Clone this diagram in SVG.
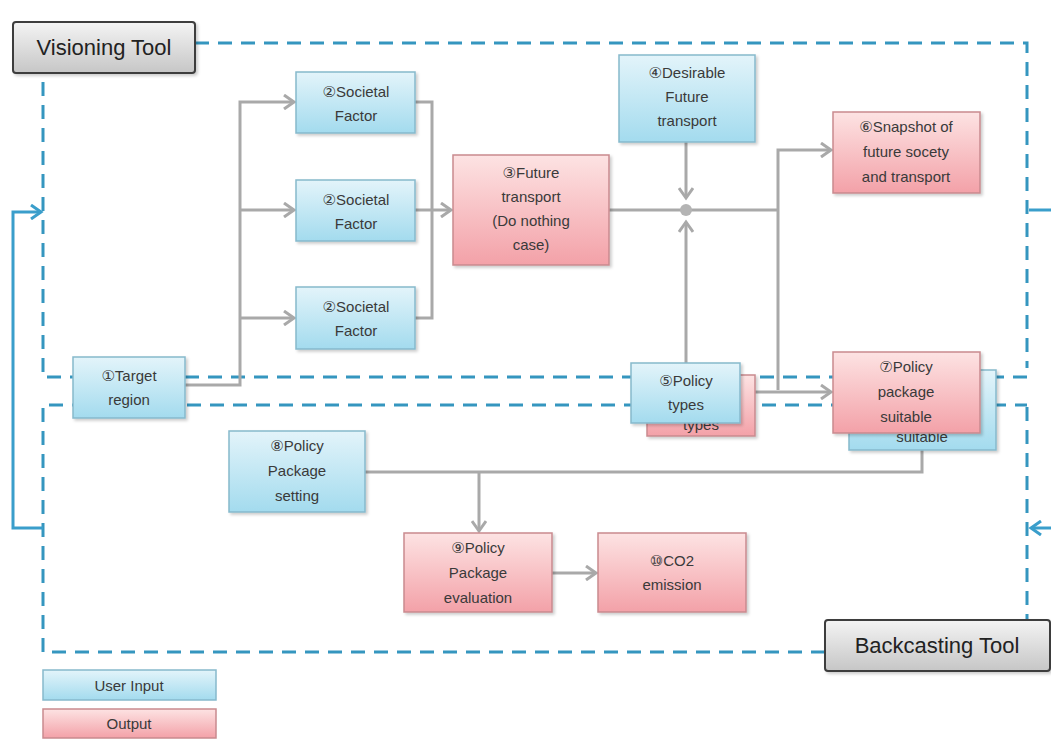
<svg xmlns="http://www.w3.org/2000/svg" width="1051" height="740" viewBox="0 0 1051 740">
  <style>
    .txt { font-family: "Liberation Sans", "DejaVu Sans", sans-serif; font-size: 15px; fill: #3a3a3a; text-anchor: middle; }
    .tool { font-family: "Liberation Sans", "DejaVu Sans", sans-serif; font-size: 22px; fill: #222; text-anchor: middle; }
    .blue { fill: url(#gBlue); stroke: #86b9cc; stroke-width: 1.5; }
    .red { fill: url(#gRed); stroke: #c98a8f; stroke-width: 1.5; }
    .toolbox { fill: url(#gGray); stroke: #3c3c3c; stroke-width: 2; }
    .conn { fill: none; stroke: #a9a9a9; stroke-width: 3; }
    .frame { fill: none; stroke: #3596bf; stroke-width: 3; stroke-dasharray: 14 9; }
    .loop { fill: none; stroke: #3a9ecb; stroke-width: 3; }
  </style>
  <defs>
    <linearGradient id="gBlue" x1="0" y1="0" x2="0" y2="1">
      <stop offset="0" stop-color="#e3f4fa"/>
      <stop offset="1" stop-color="#a3dbee"/>
    </linearGradient>
    <linearGradient id="gRed" x1="0" y1="0" x2="0" y2="1">
      <stop offset="0" stop-color="#fde3e3"/>
      <stop offset="1" stop-color="#f3a1a8"/>
    </linearGradient>
    <linearGradient id="gGray" x1="0" y1="0" x2="0" y2="1">
      <stop offset="0" stop-color="#f4f4f4"/>
      <stop offset="1" stop-color="#c6c6c6"/>
    </linearGradient>
    <marker id="arr" markerUnits="userSpaceOnUse" markerWidth="14" markerHeight="16" refX="11" refY="8" orient="auto">
      <path d="M1,1 L11,8 L1,15" fill="none" stroke="#a9a9a9" stroke-width="3"/>
    </marker>
    <marker id="arrBlue" markerUnits="userSpaceOnUse" markerWidth="14" markerHeight="16" refX="11" refY="8" orient="auto">
      <path d="M1,1 L11,8 L1,15" fill="none" stroke="#3a9ecb" stroke-width="3"/>
    </marker>
    <filter id="sh" x="-10%" y="-10%" width="130%" height="130%">
      <feDropShadow dx="2" dy="2" stdDeviation="1.5" flood-color="#000" flood-opacity="0.2"/>
    </filter>
  </defs>

  <rect width="1051" height="740" fill="#ffffff"/>

  <!-- tool frames -->
  <g id="frames">
    <path class="frame" d="M195,43 H1027 V368 M1027,377 H43 V73"/>
    <path class="frame" d="M43,652 V405 H1027 M1027,407 V620 M825,652 H43"/>
  </g>

  <!-- feedback loop between the tools -->
  <g id="loops">
    <path class="loop" d="M43,528 H13 V212 H41" marker-end="url(#arrBlue)"/>
    <path class="loop" d="M1051,210 H1029"/>
    <path class="loop" d="M1051,528 H1031" marker-end="url(#arrBlue)"/>
  </g>

  <!-- connectors -->
  <g id="connectors">
    <path class="conn" d="M185,385 H240 V102 H294" marker-end="url(#arr)"/>
    <path class="conn" d="M240,210 H294" marker-end="url(#arr)"/>
    <path class="conn" d="M240,318 H294" marker-end="url(#arr)"/>
    <path class="conn" d="M415,102 H432 V318 H415"/>
    <path class="conn" d="M415,210 H451" marker-end="url(#arr)"/>
    <path class="conn" d="M609,210 H778"/>
    <path class="conn" d="M778,390 V150 H831" marker-end="url(#arr)"/>
    <path class="conn" d="M686,142 V198" marker-end="url(#arr)"/>
    <path class="conn" d="M686,363 V222" marker-end="url(#arr)"/>
    <path class="conn" d="M755,392 H831" marker-end="url(#arr)"/>
    <path class="conn" d="M922,450 V472 H365"/>
    <path class="conn" d="M479,472 V531" marker-end="url(#arr)"/>
    <path class="conn" d="M552,573 H596" marker-end="url(#arr)"/>
    <circle cx="686" cy="210" r="6" fill="#b4b4b4"/>
  </g>

  <!-- tool labels -->
  <g id="visioning-tool">
    <rect class="toolbox" x="13" y="22" width="182" height="51" rx="3" filter="url(#sh)"/>
    <text class="tool" x="104" y="55">Visioning Tool</text>
  </g>
  <g id="backcasting-tool">
    <rect class="toolbox" x="825" y="620" width="225" height="51" rx="3" filter="url(#sh)"/>
    <text class="tool" x="937" y="653">Backcasting Tool</text>
  </g>

  <!-- nodes -->
  <g id="societal-factor-1">
    <rect class="blue" x="296" y="72" width="119" height="61" filter="url(#sh)"/>
    <text class="txt" x="356" y="97">②Societal</text>
    <text class="txt" x="356" y="121">Factor</text>
  </g>
  <g id="societal-factor-2">
    <rect class="blue" x="296" y="180" width="119" height="61" filter="url(#sh)"/>
    <text class="txt" x="356" y="205">②Societal</text>
    <text class="txt" x="356" y="229">Factor</text>
  </g>
  <g id="societal-factor-3">
    <rect class="blue" x="296" y="287" width="119" height="62" filter="url(#sh)"/>
    <text class="txt" x="356" y="312">②Societal</text>
    <text class="txt" x="356" y="336">Factor</text>
  </g>
  <g id="future-transport">
    <rect class="red" x="453" y="155" width="156" height="110" filter="url(#sh)"/>
    <text class="txt" x="531" y="178">③Future</text>
    <text class="txt" x="531" y="202">transport</text>
    <text class="txt" x="531" y="226">(Do nothing</text>
    <text class="txt" x="531" y="250">case)</text>
  </g>
  <g id="desirable-future">
    <rect class="blue" x="619" y="55" width="136" height="87" filter="url(#sh)"/>
    <text class="txt" x="687" y="78">④Desirable</text>
    <text class="txt" x="687" y="102">Future</text>
    <text class="txt" x="687" y="126">transport</text>
  </g>
  <g id="snapshot">
    <rect class="red" x="833" y="112" width="147" height="81" filter="url(#sh)"/>
    <text class="txt" x="906" y="132">⑥Snapshot of</text>
    <text class="txt" x="906" y="157">future socety</text>
    <text class="txt" x="906" y="182">and transport</text>
  </g>
  <g id="target-region">
    <rect class="blue" x="73" y="357" width="112" height="61" filter="url(#sh)"/>
    <text class="txt" x="129" y="381">①Target</text>
    <text class="txt" x="129" y="405">region</text>
  </g>
  <g id="policy-types">
    <!-- stacked copy behind, only its last line peeks out -->
    <rect class="red" x="647" y="375" width="108" height="61" filter="url(#sh)"/>
    <text class="txt" x="701" y="430">types</text>
    <rect class="blue" x="631" y="363" width="109" height="60" filter="url(#sh)"/>
    <text class="txt" x="686" y="386">⑤Policy</text>
    <text class="txt" x="686" y="410">types</text>
  </g>
  <g id="policy-package-suitable">
    <rect class="blue" x="849" y="370" width="147" height="80" filter="url(#sh)"/>
    <text class="txt" x="922" y="442">suitable</text>
    <rect class="red" x="833" y="352" width="147" height="81" filter="url(#sh)"/>
    <text class="txt" x="906" y="372">⑦Policy</text>
    <text class="txt" x="906" y="397">package</text>
    <text class="txt" x="906" y="422">suitable</text>
  </g>
  <g id="policy-package-setting">
    <rect class="blue" x="229" y="431" width="136" height="81" filter="url(#sh)"/>
    <text class="txt" x="297" y="451">⑧Policy</text>
    <text class="txt" x="297" y="476">Package</text>
    <text class="txt" x="297" y="501">setting</text>
  </g>
  <g id="policy-package-evaluation">
    <rect class="red" x="404" y="533" width="148" height="79" filter="url(#sh)"/>
    <text class="txt" x="478" y="553">⑨Policy</text>
    <text class="txt" x="478" y="578">Package</text>
    <text class="txt" x="478" y="603">evaluation</text>
  </g>
  <g id="co2-emission">
    <rect class="red" x="598" y="533" width="148" height="79" filter="url(#sh)"/>
    <text class="txt" x="672" y="566">⑩CO2</text>
    <text class="txt" x="672" y="590">emission</text>
  </g>

  <!-- legend -->
  <g id="legend-user-input">
    <rect class="blue" x="43" y="670" width="173" height="30"/>
    <text class="txt" x="129" y="691">User Input</text>
  </g>
  <g id="legend-output">
    <rect class="red" x="43" y="709" width="173" height="29"/>
    <text class="txt" x="129" y="729">Output</text>
  </g>
</svg>
